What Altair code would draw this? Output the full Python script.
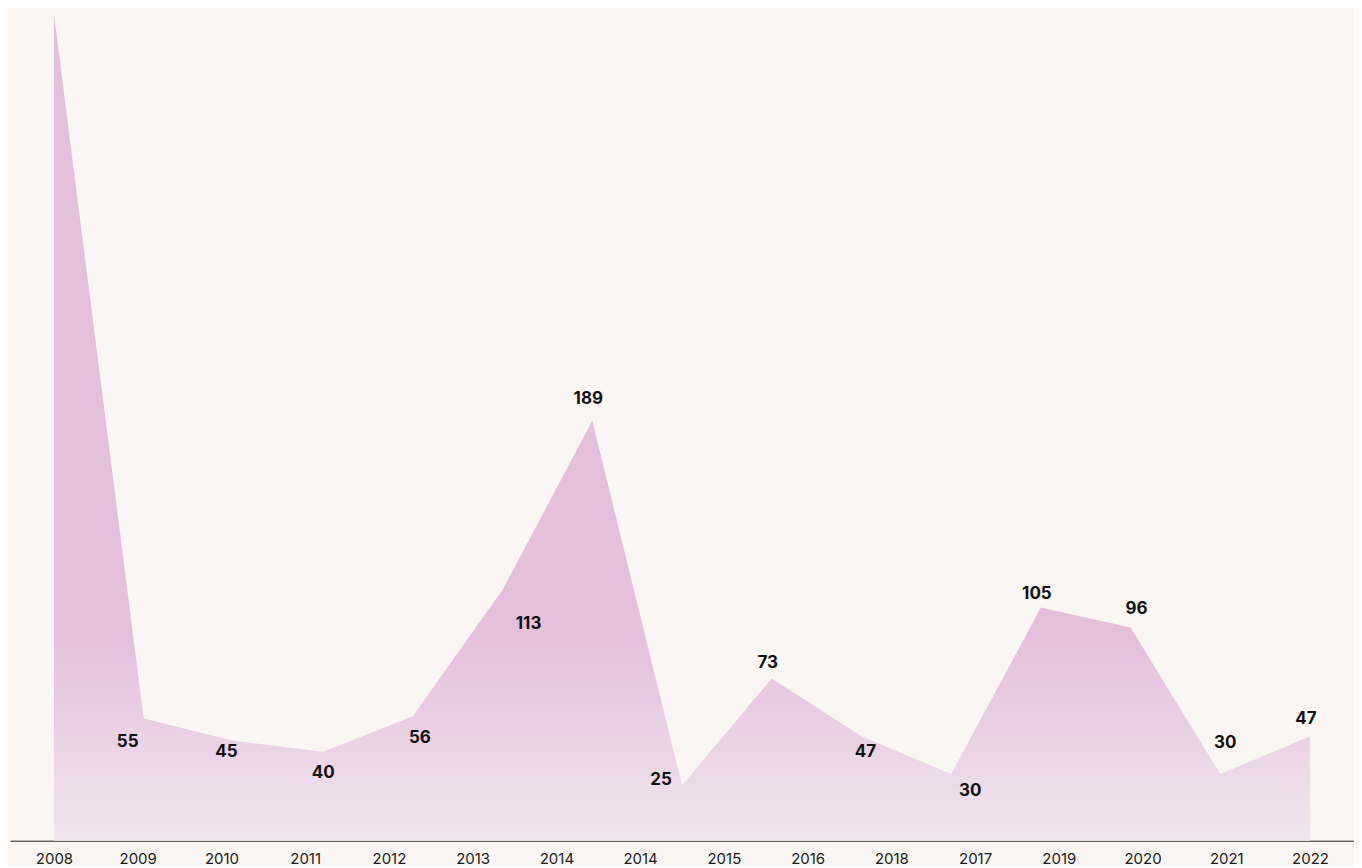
import altair as alt
import pandas as pd

# data points (15 vertices)
values = [372, 55, 45, 40, 56, 113, 189, 25, 73, 47, 30, 105, 96, 30, 47]
show_label = [False, True, True, True, True, True, True, True, True, True, True, True, True, True, True]
# label pixel offsets relative to each vertex
label_dx = [0, -16, -7, 0, 7, 26, -4, -21, -4, 4, 19, -4, 6, 5, -4]
label_dy = [0, 24, 11, 21, 22, 34, -22, -5, -16, 16, 17, -13, -18, -31, -17]
# axis tick labels (16, evenly spread over the same span)
tick_labels = ["2008", "2009", "2010", "2011", "2012", "2013", "2014", "2014",
               "2015", "2016", "2018", "2017", "2019", "2020", "2021", "2022"]

W, H = 1345, 827
XD = [-0.49, 14.49]
YD = [0, 372]
px_x = W / (XD[1] - XD[0])
px_y = H / (YD[1] - YD[0])

n = len(values)
df = pd.DataFrame({
    "i": list(range(n)),
    "v": values,
    "show": show_label,
    "dx": label_dx,
    "dy": label_dy,
    "lab": [str(v) for v in values],
})

nt = len(tick_labels)
tick_vals = [k * (n - 1) / (nt - 1) for k in range(nt)]
label_expr = "[" + ",".join(f"'{t}'" for t in tick_labels) + "][round(datum.value*%d/%d)]" % (nt - 1, n - 1)

xscale = alt.Scale(domain=XD, nice=False, zero=False)
yscale = alt.Scale(domain=YD, nice=False)

area = alt.Chart(df).mark_area(
    interpolate="linear",
    line=False,
    fill=alt.Gradient(
        gradient="linear",
        x1=0, y1=0, x2=0, y2=1,
        stops=[
            alt.GradientStop(color="#e4c0dd", offset=0),
            alt.GradientStop(color="#e4c0dd", offset=0.76),
            alt.GradientStop(color="#f1e5ee", offset=1),
        ],
    ),
).encode(
    x=alt.X("i:Q", scale=xscale, axis=alt.Axis(
        values=tick_vals, labelExpr=label_expr, title=None, grid=False,
        ticks=False, domain=True, domainColor="#222222", domainWidth=1,
        labelFont="Inter", labelFontSize=15, labelColor="#1a1a1a",
        labelPadding=11, labelFlush=False, labelOverlap=False)),
    y=alt.Y("v:Q", scale=yscale, axis=None),
)

text = alt.Chart(df).transform_filter("datum.show").transform_calculate(
    lx=f"datum.i + datum.dx / {px_x}",
    ly=f"datum.v - datum.dy / {px_y}",
).mark_text(
    font="Inter", fontSize=17, fontWeight="bold", color="#111111",
    align="center", baseline="middle",
).encode(
    x=alt.X("lx:Q", scale=xscale),
    y=alt.Y("ly:Q", scale=yscale),
    text="lab:N",
)

chart = alt.layer(area, text).properties(
    width=W, height=H,
    background="#faf6f3",
    padding={"left": 2, "top": 6, "right": 0, "bottom": 0},
).configure_view(stroke=None)

chart.save("out.html", embed_options={"renderer": "svg", "actions": False})
